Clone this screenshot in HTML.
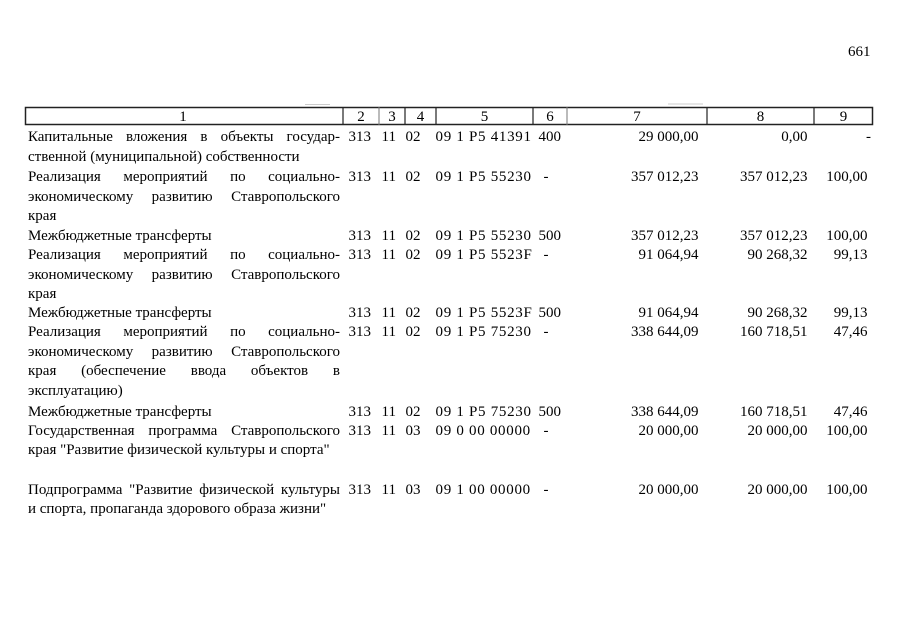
<!DOCTYPE html>
<html>
<head>
<meta charset="utf-8">
<style>
  html,body{margin:0;padding:0;background:#fff;}
  body{width:905px;height:640px;position:relative;overflow:hidden;
       font-family:"Liberation Serif","Noto Serif CJK SC",serif;color:#000;}
  .t{position:absolute;font-size:15px;line-height:18px;white-space:nowrap;}
  .c{letter-spacing:0.7px;}
  .j{position:absolute;left:28px;width:312px;font-size:15px;line-height:18px;white-space:nowrap;
     display:flex;justify-content:space-between;}
  .r{position:absolute;font-size:15px;line-height:18px;white-space:nowrap;text-align:right;}
  .h{position:absolute;top:107.5px;font-size:15px;line-height:18px;text-align:center;}
</style>
</head>
<body>
<div class="t" style="left:848px;top:43px;">661</div>

<svg width="905" height="640" style="position:absolute;left:0;top:0">
  <line x1="305" y1="104.5" x2="330" y2="104.5" stroke="#ccc" stroke-width="1"/>
  <line x1="668" y1="104" x2="703" y2="104" stroke="#ccc" stroke-width="1"/>
  <rect x="25.5" y="107.5" width="847" height="17" fill="none" stroke="#222" stroke-width="1.5"/>
  <line x1="343" y1="107" x2="343" y2="125" stroke="#222" stroke-width="1.2"/>
  <line x1="379" y1="107" x2="379" y2="125" stroke="#777" stroke-width="1"/>
  <line x1="405" y1="107" x2="405" y2="125" stroke="#222" stroke-width="1.2"/>
  <line x1="436" y1="107" x2="436" y2="125" stroke="#222" stroke-width="1.2"/>
  <line x1="533" y1="107" x2="533" y2="125" stroke="#222" stroke-width="1.2"/>
  <line x1="567" y1="107" x2="567" y2="125" stroke="#777" stroke-width="1"/>
  <line x1="707" y1="107" x2="707" y2="125" stroke="#222" stroke-width="1.2"/>
  <line x1="814" y1="107" x2="814" y2="125" stroke="#222" stroke-width="1.2"/>
</svg>

<div class="h" style="left:25px;width:316px;">1</div>
<div class="h" style="left:343px;width:36px;">2</div>
<div class="h" style="left:379px;width:26px;">3</div>
<div class="h" style="left:405px;width:31px;">4</div>
<div class="h" style="left:436px;width:97px;">5</div>
<div class="h" style="left:533px;width:34px;">6</div>
<div class="h" style="left:567px;width:140px;">7</div>
<div class="h" style="left:707px;width:107px;">8</div>
<div class="h" style="left:814px;width:59px;">9</div>

<!-- Column 1 text -->
<div class="j" style="top:128px;"><span>Капитальные</span><span>вложения</span><span>в</span><span>объекты</span><span>государ-</span></div>
<div class="t" style="left:28px;top:147.5px;">ственной (муниципальной) собственности</div>

<div class="j" style="top:168px;"><span>Реализация</span><span>мероприятий</span><span>по</span><span>социально-</span></div>
<div class="j" style="top:187.5px;"><span>экономическому</span><span>развитию</span><span>Ставропольского</span></div>
<div class="t" style="left:28px;top:207px;">края</div>

<div class="t" style="left:28px;top:226.5px;">Межбюджетные трансферты</div>

<div class="j" style="top:246px;"><span>Реализация</span><span>мероприятий</span><span>по</span><span>социально-</span></div>
<div class="j" style="top:265.5px;"><span>экономическому</span><span>развитию</span><span>Ставропольского</span></div>
<div class="t" style="left:28px;top:285px;">края</div>

<div class="t" style="left:28px;top:303.5px;">Межбюджетные трансферты</div>

<div class="j" style="top:323px;"><span>Реализация</span><span>мероприятий</span><span>по</span><span>социально-</span></div>
<div class="j" style="top:342.5px;"><span>экономическому</span><span>развитию</span><span>Ставропольского</span></div>
<div class="j" style="top:362px;"><span>края</span><span>(обеспечение</span><span>ввода</span><span>объектов</span><span>в</span></div>
<div class="t" style="left:28px;top:381.5px;">эксплуатацию)</div>

<div class="t" style="left:28px;top:402.5px;">Межбюджетные трансферты</div>

<div class="j" style="top:421.5px;"><span>Государственная</span><span>программа</span><span>Ставропольского</span></div>
<div class="t" style="left:28px;top:441px;">края "Развитие физической культуры и спорта"</div>

<div class="j" style="top:480.5px;"><span>Подпрограмма</span><span>"Развитие</span><span>физической</span><span>культуры</span></div>
<div class="t" style="left:28px;top:499.5px;">и спорта, пропаганда здорового образа жизни"</div>

<!-- Row 1 -->
<div class="t" style="left:348.5px;top:128px;">313</div>
<div class="t" style="left:381.5px;top:128px;">11</div>
<div class="t" style="left:405.5px;top:128px;">02</div>
<div class="t c" style="left:435.5px;top:128px;">09 1 P5 41391</div>
<div class="t" style="left:538.5px;top:128px;">400</div>
<div class="r" style="right:206.5px;top:128px;">29 000,00</div>
<div class="r" style="right:97.5px;top:128px;">0,00</div>
<div class="r" style="right:34px;top:128px;">-</div>

<!-- Row 2 -->
<div class="t" style="left:348.5px;top:168px;">313</div>
<div class="t" style="left:381.5px;top:168px;">11</div>
<div class="t" style="left:405.5px;top:168px;">02</div>
<div class="t c" style="left:435.5px;top:168px;">09 1 P5 55230</div>
<div class="t" style="left:543.5px;top:168px;">-</div>
<div class="r" style="right:206.5px;top:168px;">357 012,23</div>
<div class="r" style="right:97.5px;top:168px;">357 012,23</div>
<div class="r" style="right:37.5px;top:168px;">100,00</div>

<!-- Row 3 -->
<div class="t" style="left:348.5px;top:226.5px;">313</div>
<div class="t" style="left:381.5px;top:226.5px;">11</div>
<div class="t" style="left:405.5px;top:226.5px;">02</div>
<div class="t c" style="left:435.5px;top:226.5px;">09 1 P5 55230</div>
<div class="t" style="left:538.5px;top:226.5px;">500</div>
<div class="r" style="right:206.5px;top:226.5px;">357 012,23</div>
<div class="r" style="right:97.5px;top:226.5px;">357 012,23</div>
<div class="r" style="right:37.5px;top:226.5px;">100,00</div>

<!-- Row 4 -->
<div class="t" style="left:348.5px;top:246px;">313</div>
<div class="t" style="left:381.5px;top:246px;">11</div>
<div class="t" style="left:405.5px;top:246px;">02</div>
<div class="t c" style="left:435.5px;top:246px;">09 1 P5 5523F</div>
<div class="t" style="left:543.5px;top:246px;">-</div>
<div class="r" style="right:206.5px;top:246px;">91 064,94</div>
<div class="r" style="right:97.5px;top:246px;">90 268,32</div>
<div class="r" style="right:37.5px;top:246px;">99,13</div>

<!-- Row 5 -->
<div class="t" style="left:348.5px;top:303.5px;">313</div>
<div class="t" style="left:381.5px;top:303.5px;">11</div>
<div class="t" style="left:405.5px;top:303.5px;">02</div>
<div class="t c" style="left:435.5px;top:303.5px;">09 1 P5 5523F</div>
<div class="t" style="left:538.5px;top:303.5px;">500</div>
<div class="r" style="right:206.5px;top:303.5px;">91 064,94</div>
<div class="r" style="right:97.5px;top:303.5px;">90 268,32</div>
<div class="r" style="right:37.5px;top:303.5px;">99,13</div>

<!-- Row 6 -->
<div class="t" style="left:348.5px;top:323px;">313</div>
<div class="t" style="left:381.5px;top:323px;">11</div>
<div class="t" style="left:405.5px;top:323px;">02</div>
<div class="t c" style="left:435.5px;top:323px;">09 1 P5 75230</div>
<div class="t" style="left:543.5px;top:323px;">-</div>
<div class="r" style="right:206.5px;top:323px;">338 644,09</div>
<div class="r" style="right:97.5px;top:323px;">160 718,51</div>
<div class="r" style="right:37.5px;top:323px;">47,46</div>

<!-- Row 7 -->
<div class="t" style="left:348.5px;top:402.5px;">313</div>
<div class="t" style="left:381.5px;top:402.5px;">11</div>
<div class="t" style="left:405.5px;top:402.5px;">02</div>
<div class="t c" style="left:435.5px;top:402.5px;">09 1 P5 75230</div>
<div class="t" style="left:538.5px;top:402.5px;">500</div>
<div class="r" style="right:206.5px;top:402.5px;">338 644,09</div>
<div class="r" style="right:97.5px;top:402.5px;">160 718,51</div>
<div class="r" style="right:37.5px;top:402.5px;">47,46</div>

<!-- Row 8 -->
<div class="t" style="left:348.5px;top:421.5px;">313</div>
<div class="t" style="left:381.5px;top:421.5px;">11</div>
<div class="t" style="left:405.5px;top:421.5px;">03</div>
<div class="t c" style="left:435.5px;top:421.5px;">09 0 00 00000</div>
<div class="t" style="left:543.5px;top:421.5px;">-</div>
<div class="r" style="right:206.5px;top:421.5px;">20 000,00</div>
<div class="r" style="right:97.5px;top:421.5px;">20 000,00</div>
<div class="r" style="right:37.5px;top:421.5px;">100,00</div>

<!-- Row 9 -->
<div class="t" style="left:348.5px;top:480.5px;">313</div>
<div class="t" style="left:381.5px;top:480.5px;">11</div>
<div class="t" style="left:405.5px;top:480.5px;">03</div>
<div class="t c" style="left:435.5px;top:480.5px;">09 1 00 00000</div>
<div class="t" style="left:543.5px;top:480.5px;">-</div>
<div class="r" style="right:206.5px;top:480.5px;">20 000,00</div>
<div class="r" style="right:97.5px;top:480.5px;">20 000,00</div>
<div class="r" style="right:37.5px;top:480.5px;">100,00</div>

<script>
  document.querySelectorAll('.j').forEach(function(el){
    var sum=0; el.querySelectorAll('span').forEach(function(s){sum+=s.getBoundingClientRect().width;});
    var n=el.querySelectorAll('span').length;
    var need=sum+(n-1)*2.5;
    if(need>312){ el.style.width=need+'px'; el.style.transformOrigin='0 0'; el.style.transform='scaleX('+(312/need)+')'; }
  });
</script>
</body>
</html>
